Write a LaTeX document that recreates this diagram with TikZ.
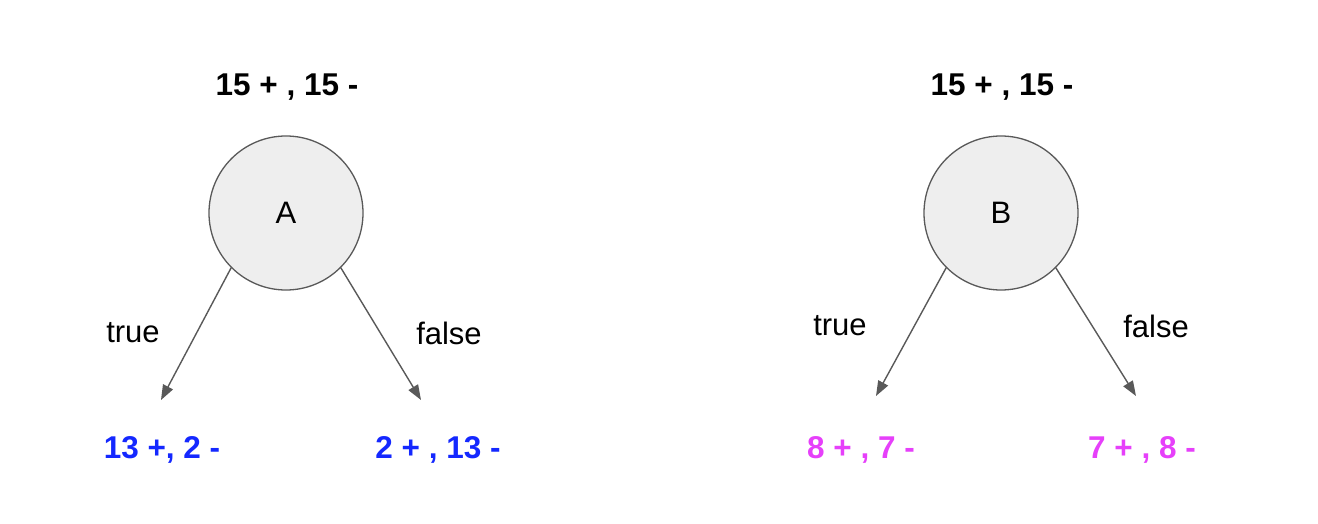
\documentclass[tikz,border=0pt]{standalone}
\usepackage{fontspec}
\setmainfont{Liberation Sans}
\usepackage{tikz}
\usetikzlibrary{shapes,arrows.meta,positioning,calc}
\definecolor{splitgray}{RGB}{89,89,89}
\definecolor{splitfill}{RGB}{238,238,238}
\definecolor{splitblue}{RGB}{20,40,255}
\definecolor{splitpink}{RGB}{230,64,250}
\tikzset{
    split/.style={circle, draw=splitgray, fill=splitfill, line width=1.3pt, minimum size=154pt, inner sep=0pt, font=\fontsize{31}{36}\selectfont},
    count/.style={font=\fontsize{31.5}{36}\selectfont\bfseries, inner sep=0pt},
    branch/.style={font=\fontsize{31}{36}\selectfont, inner sep=0pt},
    line/.style={draw=splitgray, line width=1.4pt, -{Triangle[length=15pt,width=11pt]}}
}
\begin{document}
\begin{tikzpicture}[x=1pt,y=-1pt]
    \useasboundingbox (0,0) rectangle (1318,524);
    % Split on A
    \node [split] (A) at (286,213) {A};
    \node [count] (Atop) at (287,87) {15 + , 15 -};
    \node [count, text=splitblue] (Atrue) at (162,450) {13 +, 2 -};
    \node [count, text=splitblue] (Afalse) at (438,450) {2 + , 13 -};
    \coordinate (Atruetip) at (161,400);
    \coordinate (Afalsetip) at (421,400);
    \path [line] (A.225) -- (Atruetip);
    \path [line] (A.315) -- (Afalsetip);
    \node [branch] (Atruelbl) at (133,333) {true};
    \node [branch] (Afalselbl) at (449,333) {false};

    % Split on B
    \node [split] (B) at (1001,213) {B};
    \node [count] (Btop) at (1002,87) {15 + , 15 -};
    \node [count, text=splitpink] (Btrue) at (861,450) {8 + , 7 -};
    \node [count, text=splitpink] (Bfalse) at (1142,450) {7 + , 8 -};
    \coordinate (Btruetip) at (876,396);
    \coordinate (Bfalsetip) at (1136,396);
    \path [line] (B.225) -- (Btruetip);
    \path [line] (B.315) -- (Bfalsetip);
    \node [branch] (Btruelbl) at (840,326) {true};
    \node [branch] (Bfalselbl) at (1156,326) {false};
\end{tikzpicture}
\end{document}
